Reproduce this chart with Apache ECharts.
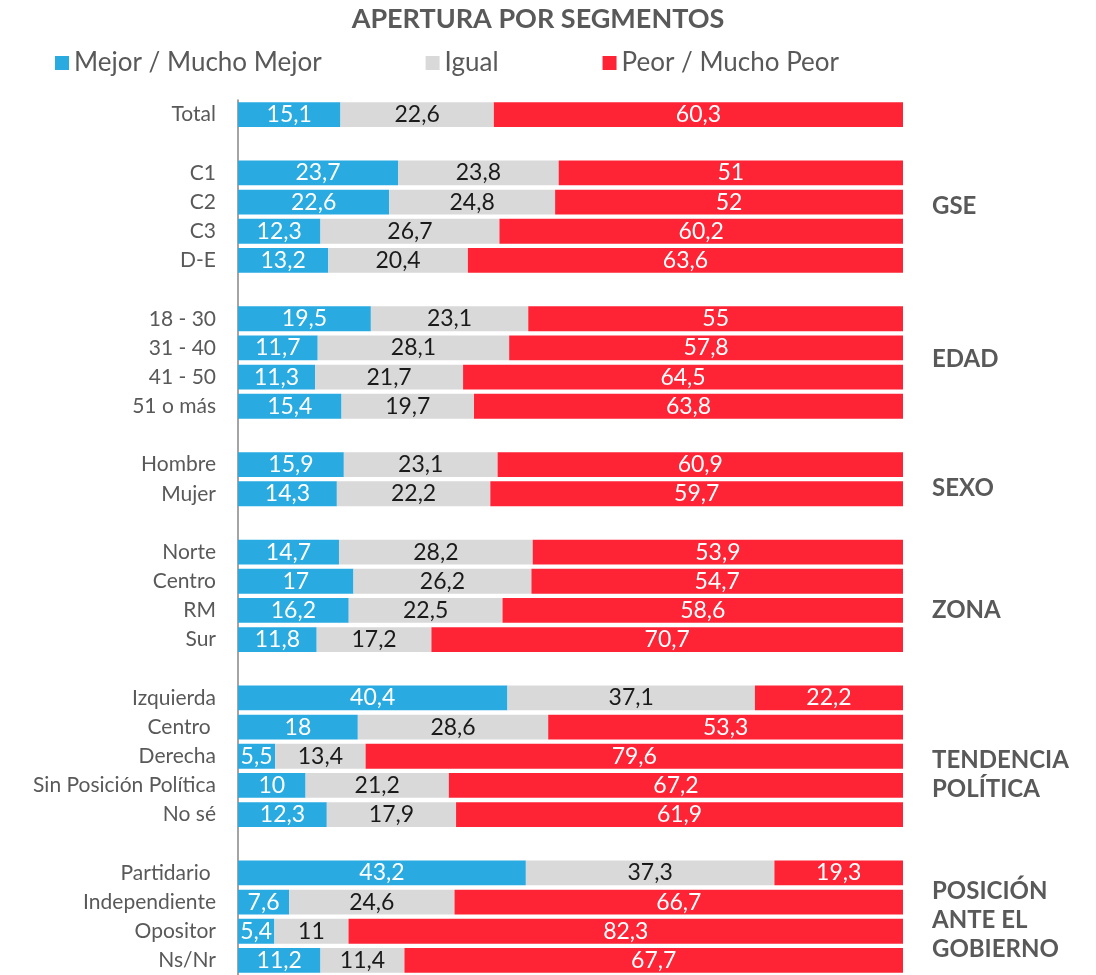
<!DOCTYPE html>
<html>
<head>
<meta charset="utf-8">
<script src="https://cdn.jsdelivr.net/npm/echarts@6/dist/echarts.min.js"></script>
<style>
  html, body { margin: 0; padding: 0; background: #fff; }
  #chart { width: 1096px; height: 975px; }
</style>
</head>
<body>
<div id="chart"></div>
<script>
// filas del gráfico ('' = separación entre grupos)
const rowLabels = ['Total', '',
    'C1', 'C2', 'C3', 'D-E', '',
    '18 - 30', '31 - 40', '41 - 50', '51 o más', '',
    'Hombre', 'Mujer', '',
    'Norte', 'Centro', 'RM', 'Sur', '',
    'Izquierda', 'Centro ', 'Derecha', 'Sin Posición Política', 'No sé', '',
    'Partidario ', 'Independiente', 'Opositor', 'Ns/Nr'];
const mejor = [15.1, null,
    23.7, 22.6, 12.3, 13.2, null,
    19.5, 11.7, 11.3, 15.4, null,
    15.9, 14.3, null,
    14.7, 17, 16.2, 11.8, null,
    40.4, 18, 5.5, 10, 12.3, null,
    43.2, 7.6, 5.4, 11.2];
const igual = [22.6, null,
    23.8, 24.8, 26.7, 20.4, null,
    23.1, 28.1, 21.7, 19.7, null,
    23.1, 22.2, null,
    28.2, 26.2, 22.5, 17.2, null,
    37.1, 28.6, 13.4, 21.2, 17.9, null,
    37.3, 24.6, 11, 11.4];
const peor = [60.3, null,
    51, 52, 60.2, 63.6, null,
    55, 57.8, 64.5, 63.8, null,
    60.9, 59.7, null,
    53.9, 54.7, 58.6, 70.7, null,
    22.2, 53.3, 79.6, 67.2, 61.9, null,
    19.3, 66.7, 82.3, 67.7];
const seriesNames = ['Mejor / Mucho Mejor', 'Igual', 'Peor / Mucho Peor'];
const colors = ['#29abe2', '#d9d9d9', '#fe2436'];
// etiquetas de grupo a la derecha (texto, fila de referencia)
const groupLabels = [
    ['GSE', 3.15],
    ['EDAD', 8.4],
    ['SEXO', 12.8],
    ['ZONA', 17.0],
    ['TENDENCIA\nPOLÍTICA', 22.65],
    ['POSICIÓN\nANTE EL\nGOBIERNO', 27.62]
];

const FONT = 'Lato';
const all = [mejor, igual, peor];
// barras apiladas al 100 %
const totals = rowLabels.map((_, i) => all.reduce((s, a) => s + (a[i] || 0), 0));
function pct(arr, i) {
    return arr[i] == null ? null : arr[i] / totals[i] * 100;
}

const myChart = echarts.init(document.getElementById('chart'));

const series = all.map((arr, k) => ({
    name: seriesNames[k],
    type: 'bar',
    stack: 'total',
    barCategoryGap: '15%',
    itemStyle: { color: colors[k] },
    label: {
        show: true,
        position: 'inside',
        fontFamily: FONT,
        fontSize: 23,
        color: k === 1 ? '#1a1a1a' : '#ffffff',
        formatter: function (p) {
            const v = arr[p.dataIndex];
            return v == null ? '' : String(v).replace('.', ',');
        }
    },
    emphasis: { disabled: true },
    data: rowLabels.map((_, i) => pct(arr, i))
}));

const option = {
    animation: false,
    title: {
        text: 'APERTURA POR SEGMENTOS',
        left: 533,
        textAlign: 'center',
        top: 1,
        textStyle: { fontFamily: FONT, fontSize: 27, fontWeight: 'bold', color: '#595959' }
    },
    legend: {
        left: 50,
        top: 45,
        itemWidth: 14,
        itemHeight: 14,
        itemGap: 104,
        icon: 'rect',
        textStyle: { fontFamily: FONT, fontSize: 26, color: '#595959' },
        data: seriesNames
    },
    grid: { left: 238, right: 193, top: 100, height: 880, containLabel: false },
    xAxis: {
        type: 'value',
        min: 0,
        max: 100,
        show: false
    },
    yAxis: {
        type: 'category',
        inverse: true,
        data: rowLabels.map((_, i) => 'r' + i),
        axisLine: { show: true, lineStyle: { color: '#868686', width: 1.5 } },
        axisTick: { show: false },
        axisLabel: {
            margin: 22,
            fontFamily: FONT,
            fontSize: 21,
            color: '#595959',
            formatter: function (v, i) { return rowLabels[i]; }
        }
    },
    series: series
};

myChart.setOption(option);

// etiquetas de grupo ubicadas según las filas del eje
const r0 = myChart.convertToPixel({ yAxisIndex: 0 }, 'r0');
const step = myChart.convertToPixel({ yAxisIndex: 0 }, 'r1') - r0;
myChart.setOption({
    graphic: groupLabels.map(g => ({
        type: 'text',
        left: 932,
        top: r0 + g[1] * step - g[0].split('\n').length * 29 / 2,
        style: {
            text: g[0],
            fontFamily: FONT,
            fontSize: 24,
            fontWeight: 'bold',
            lineHeight: 29,
            fill: '#595959'
        }
    }))
});

window.onresize = function () {
    myChart.resize();
};
</script>
</body>
</html>
